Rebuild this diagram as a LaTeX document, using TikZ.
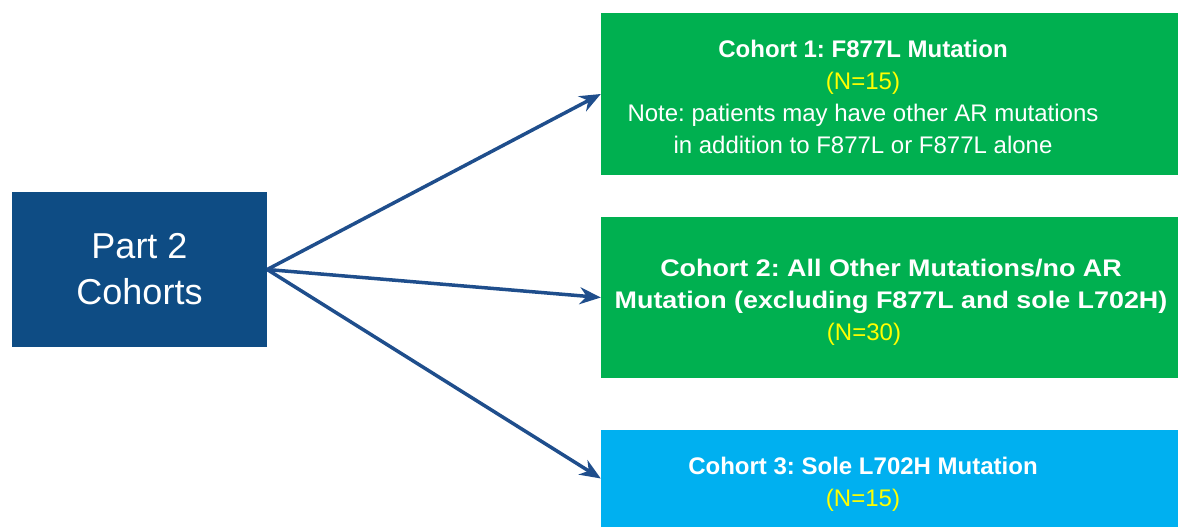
\documentclass[tikz,border=0pt]{standalone}
\usepackage{fontspec}
\setmainfont{Liberation Sans}
\newfontfamily\widesans[FakeStretch=1.12]{Liberation Sans}
\usetikzlibrary{arrows.meta}
\definecolor{partblue}{HTML}{0E4C84}
\definecolor{arrowblue}{HTML}{1F4E8C}
\definecolor{cohortgreen}{HTML}{00B050}
\definecolor{cohortcyan}{HTML}{00B0F0}
\definecolor{nyellow}{HTML}{FFFF00}
\frenchspacing
\begin{document}
\begin{tikzpicture}[x=1pt,y=-1pt,
    cohort/.style={fill=cohortgreen,inner sep=0pt,minimum width=577pt},
    cohorttext/.style={text=white,align=center,inner sep=0pt,font=\fontsize{24}{32}\selectfont},
    link/.style={draw=arrowblue,line width=3.5pt,-{Stealth[length=21pt,width=17pt]}}]
            \useasboundingbox (0,0) rectangle (1180,527);
            %riquadri
            \node[fill=partblue,text=white,align=center,minimum width=255pt,minimum height=155pt,
                font=\fontsize{36}{46}\selectfont] (part) at (139.5,269.5) {Part 2\\Cohorts};
            \node[cohort,minimum height=162pt] (c1) at (889.5,94) {};
            \node[cohort,minimum height=161pt] (c2) at (889.5,297.5) {};
            \node[cohort,fill=cohortcyan,minimum height=97pt] (c3) at (889.5,478.5) {};
            %testi
            \node[cohorttext] (t1) at (863,96.5)
                {\textbf{Cohort 1: F877L Mutation}\\\textcolor{nyellow}{(N=15)}\\Note: patients may have other AR mutations\\in addition to F877L or F877L alone};
            \node[cohorttext,font=\fontsize{24}{32}\widesans\bfseries] (t2) at (891,286.5)
                {Cohort 2: All Other Mutations/no AR\\Mutation (excluding F877L and sole L702H)};
            \node[cohorttext,text=nyellow] (n2) at (864,334.5) {(N=30)};
            \node[cohorttext] (t3) at (863,484)
                {\textbf{Cohort 3: Sole L702H Mutation}\\\textcolor{nyellow}{(N=15)}};
            %frecce
            \draw[link] (part.east) -- (c1.west);
            \draw[link] (part.east) -- (c2.west);
            \draw[link] (part.east) -- (c3.west);
        \end{tikzpicture}
\end{document}
